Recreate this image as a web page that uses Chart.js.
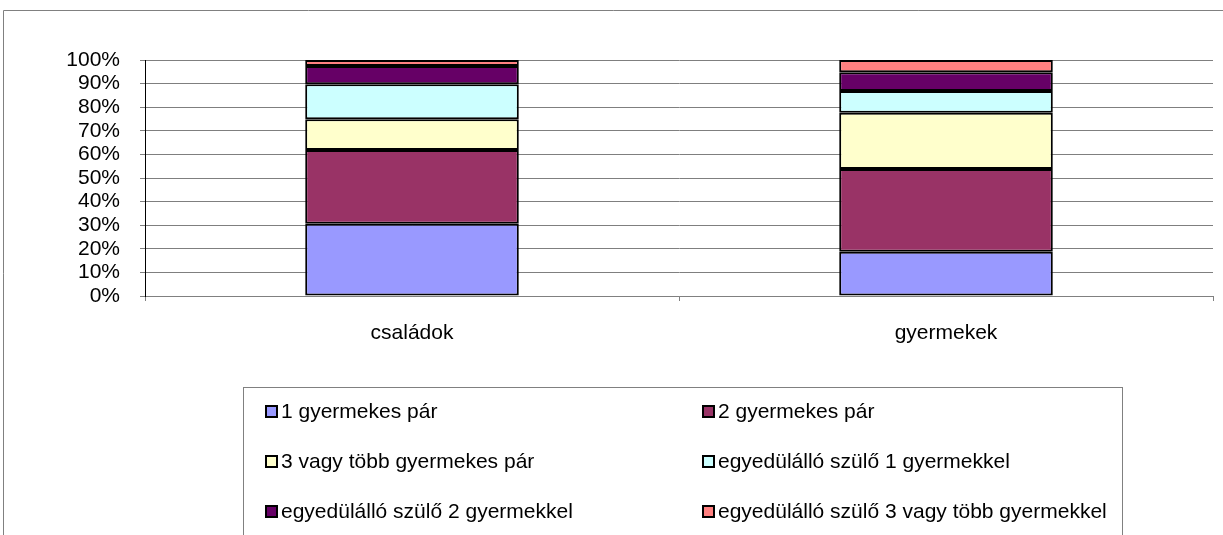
<!DOCTYPE html>
<html>
<head>
<meta charset="utf-8">
<script src="https://cdn.jsdelivr.net/npm/chart.js@4.4.0/dist/chart.umd.min.js"></script>
<style>
  html, body { margin: 0; padding: 0; background: #fff; }
  #wrap { width: 1223px; height: 535px; position: relative; }
</style>
</head>
<body>
<div id="wrap"><canvas id="chart" width="1223" height="535"></canvas></div>
<script>
// categories and series (percent shares)
const categories = ['családok', 'gyermekek'];
const seriesNames = [
  '1 gyermekes pár',
  '2 gyermekes pár',
  '3 vagy több gyermekes pár',
  'egyedülálló szülő 1 gyermekkel',
  'egyedülálló szülő 2 gyermekkel',
  'egyedülálló szülő 3 vagy több gyermekkel'
];
const pair1 = [30.6, 18.8];
const pair2 = [31.3, 35.0];
const pair3plus = [13.0, 23.9];
const single1 = [14.8, 9.2];
const single2 = [7.8, 7.9];
const single3plus = [2.5, 5.2];
const yTicks = [0, 10, 20, 30, 40, 50, 60, 70, 80, 90, 100];

const colors = ['#9999FF', '#993366', '#FFFFCC', '#CCFFFF', '#660066', '#FF8080'];
const seriesValues = [pair1, pair2, pair3plus, single1, single2, single3plus];

const FONT = '"Liberation Sans", Arial, sans-serif';
const FSIZE = 21;

// legend box + outer frame, drawn like the original spreadsheet chart
const legendPlugin = {
  id: 'boxLegend',
  afterDraw(chart) {
    const ctx = chart.ctx;
    ctx.save();
    ctx.strokeStyle = '#808080';
    ctx.lineWidth = 1;
    // outer frame (only top and left are visible)
    ctx.beginPath();
    ctx.moveTo(3.5, 540);
    ctx.lineTo(3.5, 10.5);
    ctx.lineTo(1230, 10.5);
    ctx.stroke();
    // legend box
    ctx.strokeRect(243.5, 387.5, 879, 160);

    ctx.font = FSIZE + 'px ' + FONT;
    ctx.textBaseline = 'middle';
    const colX = [266, 703];
    const rowY = [412, 462, 512];
    chart.data.datasets.forEach((ds, i) => {
      const x = colX[i % 2];
      const y = rowY[Math.floor(i / 2)];
      ctx.fillStyle = ds.backgroundColor;
      ctx.fillRect(x, y - 6, 11, 11);
      ctx.strokeStyle = '#000';
      ctx.lineWidth = 2;
      ctx.strokeRect(x, y - 6, 11, 11);
      ctx.fillStyle = '#000';
      ctx.fillText(ds.label, x + 15, y);
    });
    ctx.restore();
  }
};

new Chart(document.getElementById('chart'), {
  type: 'bar',
  data: {
    labels: categories,
    datasets: seriesNames.map((name, i) => ({
      label: name,
      data: seriesValues[i],
      backgroundColor: colors[i],
      borderColor: '#000',
      borderWidth: 2,
      borderSkipped: false,
      barPercentage: 1,
      categoryPercentage: 0.4
    }))
  },
  options: {
    responsive: false,
    animation: false,
    devicePixelRatio: 1,
    layout: { padding: { top: 60, right: 10, left: 0, bottom: 0 } },
    plugins: { legend: { display: false }, tooltip: { enabled: false } },
    scales: {
      x: {
        stacked: true,
        afterFit: s => { s.height = 239; },
        grid: { display: true, drawOnChartArea: false, offset: true, tickLength: 5, color: '#808080' },
        border: { color: '#808080' },
        ticks: { color: '#000', padding: 20, font: { family: FONT, size: FSIZE } }
      },
      y: {
        stacked: true,
        min: 0,
        max: 100,
        afterFit: s => { s.width = 145; },
        afterBuildTicks: s => { s.ticks = yTicks.map(v => ({ value: v })); },
        grid: { color: '#7f7f7f', tickLength: 5 },
        border: { color: '#000' },
        ticks: {
          color: '#000', padding: 20, autoSkip: false,
          font: { family: FONT, size: FSIZE, lineHeight: 1 },
          callback: v => v + '%'
        }
      }
    }
  },
  plugins: [legendPlugin]
});
</script>
</body>
</html>
